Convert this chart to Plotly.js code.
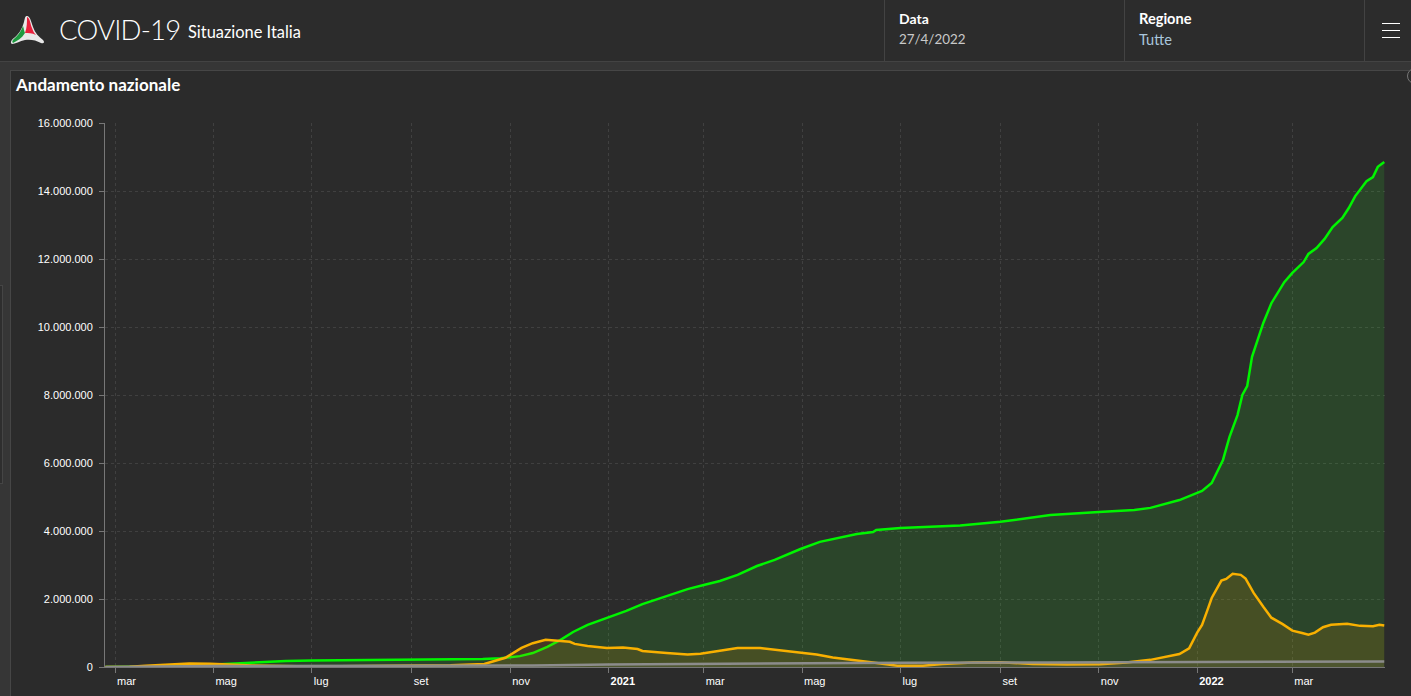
<!DOCTYPE html>
<html lang="it">
<head>
<meta charset="utf-8">
<title>COVID-19 Situazione Italia</title>
<script src="https://cdn.plot.ly/plotly-3.0.1.min.js"></script>
<style>
html,body{margin:0;padding:0;width:1411px;height:696px;overflow:hidden;background:#363636;font-family:Lato,"Noto Sans",sans-serif;color:#fff}
#header{position:absolute;left:0;top:0;width:1411px;height:61px;background:#2c2c2c;border-bottom:1px solid #434343}
#panel{position:absolute;left:10px;top:70px;width:1401px;height:626px;background:#2b2b2b;box-sizing:border-box;border:1px solid #464646;border-right:none;border-bottom:none}
#handle{position:absolute;left:0;top:285px;width:3px;height:199px;background:#2e2e2e;border:1px solid #454545;border-left:none;box-sizing:border-box}
#chart{position:absolute;left:0;top:0;width:1411px;height:696px}
.t{position:absolute;white-space:nowrap;line-height:1}
.sep{position:absolute;top:0;width:1px;height:61px;background:#434343}
.bar{position:absolute;left:1382px;width:18px;height:1px;background:#fff}
#knob{position:absolute;left:1407px;top:68px;width:16px;height:16px;border-radius:50%;border:1px solid #777;background:#2b2b2b;box-sizing:border-box}
#logo{position:absolute;left:10px;top:14px}
</style>
</head>
<body>
<div id="header"></div>
<div id="panel"></div>
<div id="handle"></div>
<div id="knob"></div>
<svg id="logo" width="36" height="32" viewBox="0 0 36 32">
<path d="M17 2 C20 2 21 7 23 13 C25 19 29 23 33 26 C35 28 34 30 31 29 C26 26 20 25 15 26 C10 27 5 30 2 30 C0 29 1 26 4 24 C9 20 12 15 14 8 C15 4 15 2 17 2Z" fill="#e8e8e8"/>
<path d="M17 3 C20 4 20 9 22 14 C23 17 24 19 26 21 C22 19 18 19 15 19 C17 14 17 8 17 3Z" fill="#e8203c"/>
<path d="M15 19 C12 24 7 27 3 29 C1 27 4 25 6 23 C9 20 11 17 13 12 C14 15 14 17 15 19Z" fill="#1d9a3f"/>
</svg>
<div class="t" style="left:59px;top:16px;font-size:27.5px;font-weight:300;letter-spacing:-0.8px">COVID-19</div>
<div class="t" style="left:188px;top:24px;font-size:16.4px">Situazione Italia</div>
<div class="sep" style="left:884px"></div>
<div class="sep" style="left:1124px"></div>
<div class="sep" style="left:1364px"></div>
<div class="t" style="left:899px;top:12px;font-size:14px;font-weight:700">Data</div>
<div class="t" style="left:899px;top:33px;font-size:13.4px;color:#c9c9c9">27/4/2022</div>
<div class="t" style="left:1139px;top:12px;font-size:14.6px;font-weight:700">Regione</div>
<div class="t" style="left:1139px;top:33px;font-size:14.6px;color:#a9c6dc">Tutte</div>
<div class="bar" style="top:23px"></div>
<div class="bar" style="top:30px"></div>
<div class="bar" style="top:37px"></div>
<div id="chart"></div>
<script>
const greenDates = ['2020-02-24','2020-03-15','2020-04-01','2020-04-15','2020-05-01','2020-05-15','2020-06-01','2020-06-15','2020-07-01','2020-08-01','2020-09-01','2020-10-01','2020-10-15','2020-10-26','2020-11-07','2020-11-15','2020-11-24','2020-12-02','2020-12-10','2020-12-19','2020-12-27','2021-01-01','2021-01-12','2021-01-22','2021-02-02','2021-02-19','2021-03-01','2021-03-11','2021-03-22','2021-04-03','2021-04-14','2021-04-30','2021-05-12','2021-05-25','2021-06-04','2021-06-14','2021-06-16','2021-07-01','2021-08-07','2021-09-01','2021-10-02','2021-11-01','2021-11-23','2021-12-03','2021-12-21','2022-01-01','2022-01-04','2022-01-10','2022-01-14','2022-01-17','2022-01-21','2022-01-26','2022-01-29','2022-02-01','2022-02-04','2022-02-07','2022-02-11','2022-02-16','2022-02-20','2022-02-24','2022-03-01','2022-03-08','2022-03-11','2022-03-16','2022-03-21','2022-03-26','2022-04-01','2022-04-05','2022-04-09','2022-04-16','2022-04-20','2022-04-23','2022-04-27'];
const greenValues = [0,2000,15000,38000,75000,110000,155000,175000,190000,200000,208000,220000,235000,255000,320000,410000,590000,790000,1030000,1240000,1380000,1470000,1650000,1850000,2030000,2290000,2410000,2530000,2710000,2970000,3150000,3470000,3680000,3820000,3910000,3970000,4030000,4090000,4160000,4270000,4470000,4560000,4620000,4680000,4910000,5120000,5180000,5410000,5790000,6090000,6760000,7410000,8000000,8260000,9120000,9530000,10120000,10700000,11030000,11320000,11590000,11910000,12150000,12320000,12590000,12940000,13210000,13500000,13850000,14290000,14410000,14710000,14850000];

const orangeDates = ['2020-02-24','2020-03-10','2020-03-20','2020-04-03','2020-04-16','2020-04-29','2020-05-25','2020-07-01','2020-09-01','2020-09-25','2020-10-16','2020-10-29','2020-11-08','2020-11-15','2020-11-23','2020-11-30','2020-12-08','2020-12-11','2020-12-19','2020-12-31','2021-01-10','2021-01-19','2021-01-22','2021-02-06','2021-02-19','2021-02-27','2021-03-09','2021-03-22','2021-04-05','2021-04-15','2021-04-30','2021-05-10','2021-05-20','2021-06-04','2021-06-14','2021-06-29','2021-07-15','2021-07-27','2021-08-15','2021-09-01','2021-09-21','2021-10-12','2021-11-02','2021-11-18','2021-12-03','2021-12-21','2021-12-27','2022-01-01','2022-01-04','2022-01-07','2022-01-10','2022-01-16','2022-01-19','2022-01-23','2022-01-28','2022-01-31','2022-02-05','2022-02-11','2022-02-16','2022-02-23','2022-03-01','2022-03-07','2022-03-11','2022-03-15','2022-03-20','2022-03-25','2022-04-04','2022-04-12','2022-04-20','2022-04-24','2022-04-27'];
const orangeValues = [0,8000,40000,85000,105000,95000,45000,15000,25000,50000,90000,270000,560000,700000,800000,770000,740000,680000,620000,560000,570000,530000,470000,410000,370000,390000,470000,560000,560000,500000,430000,370000,280000,180000,130000,40000,40000,85000,130000,140000,90000,70000,80000,130000,210000,380000,550000,1010000,1240000,1630000,2030000,2540000,2590000,2740000,2710000,2600000,2180000,1770000,1450000,1260000,1070000,1000000,950000,1010000,1170000,1240000,1270000,1210000,1200000,1240000,1220000];

const greyDates = ['2020-02-24','2020-03-15','2020-04-01','2020-05-01','2020-06-01','2020-10-01','2020-11-15','2021-01-01','2021-03-01','2021-05-01','2021-07-01','2021-10-01','2022-01-01','2022-02-01','2022-03-01','2022-04-27'];
const greyValues = [0,2000,14000,28000,33000,36000,45000,75000,98000,120000,128000,131000,137000,148000,155000,163000];

const tickDates = ['2020-03-01','2020-05-01','2020-07-01','2020-09-01','2020-11-01','2021-01-01','2021-03-01','2021-05-01','2021-07-01','2021-09-01','2021-11-01','2022-01-01','2022-03-01'];
const tickLabels = ['mar','mag','lug','set','nov','<b>2021</b>','mar','mag','lug','set','nov','<b>2022</b>','mar'];
const yTicks = [0,2000000,4000000,6000000,8000000,10000000,12000000,14000000,16000000];
const chartTitle = 'Andamento nazionale';

const traces = [
  {x:greenDates,y:greenValues,name:'Totale dimessi guariti',type:'scatter',mode:'lines',fill:'tozeroy',
   line:{color:'#00f500',width:2.5},fillcolor:'rgba(45,255,40,0.125)'},
  {x:orangeDates,y:orangeValues,name:'Attualmente positivi',type:'scatter',mode:'lines',fill:'tozeroy',
   line:{color:'#f9b000',width:2.5},fillcolor:'rgba(255,150,0,0.13)'},
  {x:greyDates,y:greyValues,name:'Deceduti',type:'scatter',mode:'lines',fill:'tozeroy',
   line:{color:'#8c8c8c',width:2.5},fillcolor:'rgba(150,150,150,0.10)'}
];
const layout = {
  width:1411,height:696,
  margin:{l:105,r:26,t:123,b:29,pad:0},
  paper_bgcolor:'rgba(0,0,0,0)',plot_bgcolor:'rgba(0,0,0,0)',
  separators:',.',showlegend:false,
  font:{family:'"Liberation Sans",Arial,sans-serif',size:11,color:'#fff'},
  title:{text:'<b>'+chartTitle+'</b>',x:16/1411,xref:'container',xanchor:'left',y:1-85/696,yref:'container',yanchor:'middle',
    font:{family:'Lato,"Noto Sans",sans-serif',size:17,color:'#fff'}},
  xaxis:{type:'date',range:['2020-02-23 18:00','2022-04-27 11:00'],tickmode:'array',tickvals:tickDates,ticktext:tickLabels,
    ticklabelposition:'outside right',ticklabelshift:1,ticklabelstandoff:4,ticks:'outside',ticklen:5,tickcolor:'#777',tickwidth:1,
    showline:true,linecolor:'#777',linewidth:1,showgrid:true,gridcolor:'#404040',griddash:'3px,3px',gridwidth:1,zeroline:false,
    tickfont:{size:11,color:'#fff'},fixedrange:true},
  yaxis:{range:[0,16000000],tickmode:'array',tickvals:yTicks,tickformat:',d',ticklabelstandoff:4,ticks:'outside',ticklen:5,tickcolor:'#777',tickwidth:1,
    showline:true,linecolor:'#777',linewidth:1,showgrid:true,gridcolor:'#404040',griddash:'3px,3px',gridwidth:1,zeroline:false,
    tickfont:{size:11,color:'#fff'},fixedrange:true},
  hovermode:'x unified'
};
Plotly.newPlot('chart',traces,layout,{displayModeBar:false,responsive:false});
</script>
</body>
</html>
